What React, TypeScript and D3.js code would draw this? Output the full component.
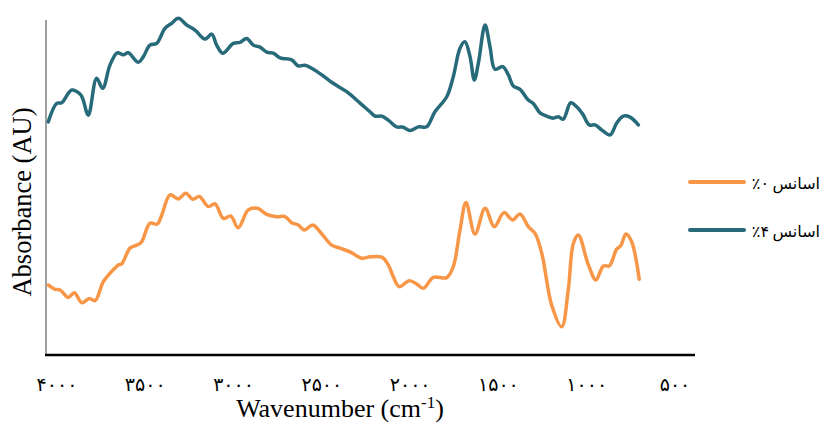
import React from "react";
import * as d3 from "d3";

const seriesWords = ["اسانس", "اسانس"];
const seriesPercents = ["٪۰", "٪۴"];
const seriesColors = ["#f79646", "#276a7a"];

const xTickValues = [4000, 3500, 3000, 2500, 2000, 1500, 1000, 500];

// 0% essential oil (orange)
const wn0 = [3993, 3955, 3926, 3879, 3845, 3803, 3760, 3728, 3681, 3643, 3596, 3577, 3530, 3492, 3464, 3417, 3375, 3350, 3303, 3256, 3214, 3175, 3137, 3086, 3048, 3001, 2960, 2917, 2860, 2809, 2756, 2699, 2652, 2614, 2577, 2543, 2495, 2454, 2388, 2341, 2284, 2218, 2171, 2104, 2067, 2039, 2005, 1948, 1906, 1869, 1812, 1736, 1699, 1661, 1627, 1576, 1519, 1467, 1412, 1363, 1321, 1274, 1236, 1198, 1142, 1085, 1048, 1019, 991, 934, 891, 849, 815, 774, 751, 721, 689, 646];
const abs0 = [0.209, 0.196, 0.194, 0.172, 0.186, 0.156, 0.169, 0.162, 0.219, 0.244, 0.269, 0.272, 0.319, 0.328, 0.338, 0.393, 0.391, 0.418, 0.478, 0.466, 0.483, 0.465, 0.473, 0.443, 0.451, 0.408, 0.415, 0.380, 0.433, 0.438, 0.420, 0.413, 0.413, 0.395, 0.388, 0.373, 0.388, 0.368, 0.328, 0.319, 0.308, 0.289, 0.293, 0.292, 0.269, 0.234, 0.204, 0.222, 0.212, 0.199, 0.232, 0.231, 0.264, 0.373, 0.455, 0.361, 0.438, 0.383, 0.425, 0.403, 0.421, 0.383, 0.363, 0.304, 0.149, 0.084, 0.194, 0.333, 0.358, 0.269, 0.224, 0.266, 0.266, 0.316, 0.326, 0.361, 0.338, 0.226];

// 4% essential oil (teal)
const wn4 = [3993, 3945, 3917, 3860, 3813, 3798, 3766, 3719, 3685, 3643, 3602, 3568, 3540, 3483, 3455, 3417, 3379, 3332, 3294, 3256, 3209, 3162, 3105, 3067, 3039, 3005, 2945, 2907, 2869, 2832, 2794, 2756, 2718, 2680, 2614, 2577, 2539, 2492, 2435, 2379, 2303, 2227, 2171, 2142, 2104, 2067, 2020, 1982, 1944, 1897, 1850, 1803, 1736, 1699, 1661, 1633, 1604, 1580, 1557, 1519, 1491, 1463, 1419, 1387, 1359, 1321, 1274, 1246, 1208, 1170, 1133, 1104, 1076, 1034, 1000, 966, 929, 896, 859, 811, 774, 736, 698, 651];
const abs4 = [0.696, 0.751, 0.753, 0.791, 0.779, 0.766, 0.716, 0.826, 0.796, 0.866, 0.902, 0.896, 0.902, 0.874, 0.890, 0.925, 0.930, 0.975, 0.990, 1.005, 0.985, 0.970, 0.943, 0.958, 0.925, 0.901, 0.930, 0.933, 0.945, 0.925, 0.919, 0.904, 0.901, 0.887, 0.881, 0.863, 0.865, 0.853, 0.833, 0.811, 0.786, 0.752, 0.726, 0.713, 0.713, 0.701, 0.681, 0.680, 0.670, 0.681, 0.681, 0.726, 0.771, 0.831, 0.916, 0.935, 0.890, 0.821, 0.871, 0.985, 0.920, 0.853, 0.861, 0.836, 0.803, 0.793, 0.761, 0.751, 0.723, 0.713, 0.707, 0.711, 0.704, 0.753, 0.741, 0.719, 0.687, 0.687, 0.672, 0.657, 0.692, 0.713, 0.710, 0.687];

const toPersian = (n: number) =>
  String(n).replace(/[0-9]/g, (d) => "۰۱۲۳۴۵۶۷۸۹"[+d]);

export default function App() {
  const W = 828;
  const H = 424;
  const axisLeft = 46;
  const axisBottom = 355;
  const x = d3.scaleLinear().domain([4000, 500]).range([47, 665]);
  const y = d3.scaleLinear().domain([0, 1]).range([axisBottom, 20]);

  const line = d3
    .line<[number, number]>()
    .x((d) => x(d[0]))
    .y((d) => y(d[1]))
    .curve(d3.curveCatmullRom.alpha(0.5));

  const series = [
    { color: seriesColors[0], pts: wn0.map((w, i) => [w, abs0[i]] as [number, number]) },
    { color: seriesColors[1], pts: wn4.map((w, i) => [w, abs4[i]] as [number, number]) },
  ];

  return (
    <svg width={W} height={H} style={{ position: "absolute", left: 0, top: 0, background: "#fff" }}>
      <rect width={W} height={H} fill="#fff" />
      {/* axes */}
      <line x1={axisLeft} x2={axisLeft} y1={20} y2={axisBottom} stroke="#7f7f7f" strokeWidth={1.5} />
      <line x1={axisLeft - 1} x2={695} y1={axisBottom} y2={axisBottom} stroke="#000" strokeWidth={2.5} />
      {xTickValues.map((v) => (
        <text
          key={v}
          x={x(v) + 10}
          y={391}
          textAnchor="middle"
          fontFamily="'DejaVu Sans', sans-serif"
          fontSize={19}
          letterSpacing={2}
          fill="#000"
        >
          {toPersian(v)}
        </text>
      ))}
      <text x={340} y={417} textAnchor="middle" fontFamily="'Liberation Serif', serif" fontSize={26} fill="#000">
        Wavenumber (cm<tspan dy={-9} fontSize={17}>-1</tspan><tspan dy={9}>)</tspan>
      </text>
      <text
        transform={`translate(31, 202) rotate(-90)`}
        textAnchor="middle"
        fontFamily="'Liberation Serif', serif"
        fontSize={26.5}
        fill="#000"
      >
        Absorbance (AU)
      </text>
      {series.map((s, i) => (
        <path key={"s" + i} d={line(s.pts) || ""} fill="none" stroke={s.color} strokeWidth={3.5} strokeLinejoin="round" strokeLinecap="round" />
      ))}
      {/* legend */}
      {series.map((s, i) => (
        <g key={"lg" + i} transform={`translate(0, ${182 + i * 48})`}>
          <line x1={690} x2={744} y1={0} y2={0} stroke={s.color} strokeWidth={4} strokeLinecap="round" />
          <text x={820} y={7} textAnchor="end" fontFamily="'DejaVu Sans', sans-serif" fontSize={16} fill="#000">
            {seriesWords[i]}
          </text>
          <text x={769} y={7} textAnchor="end" fontFamily="'DejaVu Sans', sans-serif" fontSize={16} fill="#000">
            {seriesPercents[i]}
          </text>
        </g>
      ))}
    </svg>
  );
}
